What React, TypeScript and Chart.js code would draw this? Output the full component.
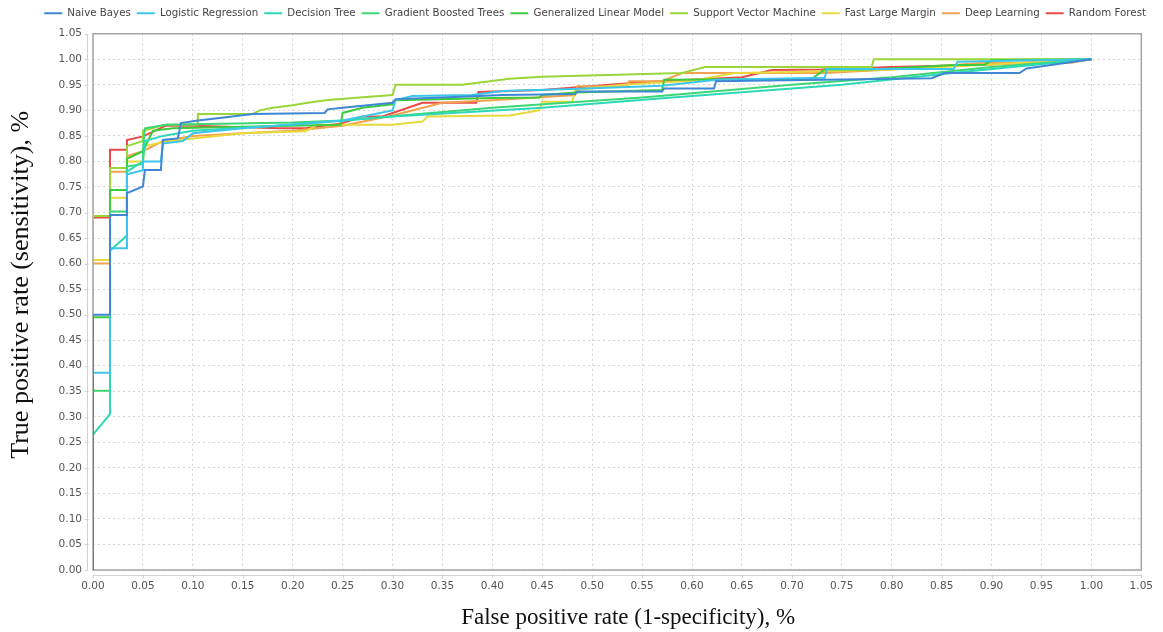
import React, { useEffect, useRef } from "react";
import { Chart, registerables } from "chart.js";

Chart.register(...registerables);

type Pt = [number, number];

const seriesNames = [
  "Naive Bayes",
  "Logistic Regression",
  "Decision Tree",
  "Gradient Boosted Trees",
  "Generalized Linear Model",
  "Support Vector Machine",
  "Fast Large Margin",
  "Deep Learning",
  "Random Forest",
];

const naiveBayes: Pt[] = [
  [0, 0], [0, 0.5], [0.017, 0.5], [0.017, 0.695], [0.034, 0.695], [0.034, 0.738], [0.05, 0.751],
  [0.052, 0.783], [0.068, 0.783], [0.07, 0.842], [0.085, 0.845], [0.088, 0.875], [0.105, 0.88],
  [0.127, 0.885], [0.16, 0.893], [0.232, 0.895], [0.235, 0.902], [0.25, 0.905], [0.3, 0.915],
  [0.303, 0.922], [0.35, 0.925], [0.41, 0.93], [0.483, 0.932], [0.485, 0.937], [0.57, 0.937],
  [0.572, 0.943], [0.622, 0.943], [0.624, 0.957], [0.84, 0.963], [0.853, 0.973], [0.928, 0.973],
  [0.935, 0.982], [1, 1],
];

const logisticRegression: Pt[] = [
  [0, 0], [0, 0.386], [0.017, 0.386], [0.017, 0.63], [0.034, 0.63], [0.034, 0.775], [0.05, 0.783],
  [0.05, 0.8], [0.068, 0.8], [0.07, 0.835], [0.09, 0.84], [0.1, 0.855], [0.15, 0.865], [0.25, 0.88],
  [0.3, 0.9], [0.303, 0.92], [0.32, 0.928], [0.38, 0.93], [0.41, 0.938], [0.48, 0.942], [0.57, 0.948],
  [0.625, 0.96], [0.733, 0.964], [0.735, 0.981], [0.862, 0.981], [0.866, 0.995], [1, 1],
];

const decisionTree: Pt[] = [
  [0, 0], [0, 0.265], [0.017, 0.305], [0.017, 0.625], [0.034, 0.655], [0.034, 0.78], [0.05, 0.8],
  [0.052, 0.84], [0.07, 0.85], [0.1, 0.86], [0.2, 0.872], [0.3, 0.888], [0.45, 0.905], [0.58, 0.925],
  [0.75, 0.95], [0.87, 0.975], [1, 1],
];

const gradientBoostedTrees: Pt[] = [
  [0, 0], [0, 0.351], [0.017, 0.351], [0.017, 0.702], [0.034, 0.702], [0.034, 0.79], [0.05, 0.795],
  [0.05, 0.823], [0.052, 0.865], [0.073, 0.872], [0.1, 0.873], [0.2, 0.876], [0.25, 0.88],
  [0.4, 0.905], [0.55, 0.925], [0.7, 0.95], [0.8, 0.965], [0.9, 0.985], [1, 1],
];

const generalizedLinearModel: Pt[] = [
  [0, 0], [0, 0.495], [0.017, 0.495], [0.017, 0.744], [0.034, 0.744], [0.034, 0.805], [0.05, 0.82],
  [0.06, 0.86], [0.08, 0.865], [0.15, 0.868], [0.248, 0.872], [0.25, 0.895], [0.27, 0.905],
  [0.3, 0.912], [0.303, 0.92], [0.4, 0.924], [0.447, 0.925], [0.45, 0.93], [0.483, 0.935],
  [0.57, 0.94], [0.572, 0.96], [0.72, 0.962], [0.733, 0.98], [0.78, 0.98], [0.863, 0.989],
  [0.893, 0.989], [0.9, 0.998], [1, 1],
];

const supportVectorMachine: Pt[] = [
  [0, 0], [0, 0.693], [0.017, 0.693], [0.017, 0.787], [0.034, 0.787], [0.034, 0.83], [0.05, 0.84],
  [0.05, 0.86], [0.073, 0.872], [0.105, 0.872], [0.105, 0.893], [0.16, 0.893], [0.167, 0.9],
  [0.18, 0.905], [0.2, 0.91], [0.215, 0.915], [0.233, 0.92], [0.267, 0.925], [0.3, 0.93],
  [0.303, 0.95], [0.37, 0.95], [0.417, 0.962], [0.45, 0.966], [0.59, 0.973], [0.613, 0.985],
  [0.78, 0.985], [0.782, 1], [1, 1],
];

const fastLargeMargin: Pt[] = [
  [0, 0], [0, 0.607], [0.017, 0.607], [0.017, 0.729], [0.034, 0.729], [0.034, 0.8], [0.05, 0.8],
  [0.052, 0.83], [0.07, 0.838], [0.1, 0.845], [0.15, 0.855], [0.213, 0.859], [0.225, 0.872],
  [0.3, 0.872], [0.33, 0.878], [0.335, 0.888], [0.417, 0.89], [0.447, 0.9], [0.45, 0.917],
  [0.48, 0.917], [0.483, 0.94], [0.53, 0.95], [0.6, 0.958], [0.643, 0.973], [0.7, 0.975],
  [0.8, 0.98], [0.9, 0.99], [1, 1],
];

const deepLearning: Pt[] = [
  [0, 0], [0, 0.6], [0.017, 0.6], [0.017, 0.78], [0.034, 0.78], [0.034, 0.81], [0.05, 0.82],
  [0.07, 0.84], [0.1, 0.85], [0.15, 0.855], [0.2, 0.86], [0.25, 0.87], [0.3, 0.89], [0.35, 0.915],
  [0.4, 0.92], [0.483, 0.93], [0.485, 0.947], [0.535, 0.947], [0.537, 0.957], [0.57, 0.957],
  [0.59, 0.973], [0.733, 0.973], [0.8, 0.98], [0.893, 0.993], [0.98, 0.993], [1, 1],
];

const randomForest: Pt[] = [
  [0, 0], [0, 0.69], [0.017, 0.69], [0.017, 0.823], [0.034, 0.823], [0.034, 0.842], [0.05, 0.849],
  [0.073, 0.87], [0.1, 0.87], [0.187, 0.865], [0.213, 0.865], [0.25, 0.875], [0.27, 0.888],
  [0.29, 0.888], [0.33, 0.915], [0.384, 0.915], [0.386, 0.936], [0.45, 0.94], [0.55, 0.955],
  [0.65, 0.965], [0.68, 0.979], [0.73, 0.98], [0.8, 0.985], [0.9, 0.99], [1, 1],
];

const seriesData: Pt[][] = [
  naiveBayes,
  logisticRegression,
  decisionTree,
  gradientBoostedTrees,
  generalizedLinearModel,
  supportVectorMachine,
  fastLargeMargin,
  deepLearning,
  randomForest,
];

const seriesColors = [
  "#3f87d4",
  "#3cc6ea",
  "#2ed8b6",
  "#3cd676",
  "#3ccc3c",
  "#9ad63a",
  "#e8da3c",
  "#f0a24c",
  "#e84a4a",
];

const xTitle = "False positive rate (1-specificity), %";
const yTitle = "True positive rate (sensitivity), %";

const SERIF = "'Liberation Serif', 'Times New Roman', serif";

const framePlugin = {
  id: "frameAxes",
  beforeLayout(chart: any) {
    const lg = chart.legend;
    if (lg && !lg._patchedFit) {
      const orig = lg.fit.bind(lg);
      lg.fit = function () {
        orig();
        this.height += 7.5;
      };
      lg._patchedFit = true;
    }
  },
  afterLayout(chart: any) {
    const lg = chart.legend;
    if (lg) {
      lg.left += 8;
      lg.right += 8;
      lg.top += 2;
      lg.bottom += 2;
    }
  },
  beforeDatasetsDraw(chart: any) {
    const { ctx, chartArea } = chart;
    const { left, right, top, bottom } = chartArea;
    ctx.save();
    ctx.strokeStyle = "#a3a3a3";
    ctx.lineWidth = 1.5;
    ctx.strokeRect(left, top, right - left, bottom - top);
    ctx.restore();
  },
  afterDraw(chart: any) {
    const { ctx, chartArea, scales } = chart;
    const { left, right, top, bottom } = chartArea;
    ctx.save();
    ctx.strokeStyle = "#d2d2d2";
    ctx.lineWidth = 1;
    ctx.beginPath();
    const ax = Math.round(left - 6) + 0.5;
    ctx.moveTo(ax, top);
    ctx.lineTo(ax, bottom);
    scales.y.ticks.forEach((t: any) => {
      const py = Math.round(scales.y.getPixelForValue(t.value)) + 0.5;
      ctx.moveTo(ax - 3, py);
      ctx.lineTo(ax + 1, py);
    });
    const ay = Math.round(bottom + 5) + 0.5;
    ctx.moveTo(left, ay);
    ctx.lineTo(right, ay);
    scales.x.ticks.forEach((t: any) => {
      const px = Math.round(scales.x.getPixelForValue(t.value)) + 0.5;
      ctx.moveTo(px, ay - 1);
      ctx.lineTo(px, ay + 3);
    });
    ctx.stroke();

    // axis titles
    ctx.fillStyle = "#111";
    ctx.textAlign = "center";
    ctx.textBaseline = "middle";
    ctx.font = `23px ${SERIF}`;
    ctx.fillText(xTitle, (left + right) / 2 + 11, bottom + 48);
    ctx.translate(21, (top + bottom) / 2 - 17);
    ctx.rotate(-Math.PI / 2);
    ctx.font = `26px ${SERIF}`;
    ctx.fillText(yTitle, 0, 0);
    ctx.restore();
  },
};

export default function App() {
  const canvasRef = useRef<HTMLCanvasElement | null>(null);

  useEffect(() => {
    if (!canvasRef.current) return;
    const tickFont = { family: "'DejaVu Sans', sans-serif", size: 10.5 };
    const gridCommon = {
      color: "#d4d4d4",
      lineWidth: 1,
      drawTicks: false,
    };
    const chart = new Chart(canvasRef.current, {
      type: "scatter",
      data: {
        datasets: seriesNames.map((name, i) => ({
          label: name,
          data: seriesData[i].map(([x, y]) => ({ x, y })),
          borderColor: seriesColors[i],
          backgroundColor: seriesColors[i],
          borderWidth: 2,
          showLine: true,
          pointRadius: 0,
          pointHoverRadius: 0,
          tension: 0,
        })),
      },
      options: {
        animation: false,
        responsive: false,
        events: [],
        layout: { padding: { right: 19 } },
        plugins: {
          tooltip: { enabled: false },
          legend: {
            position: "top",
            align: "end",
            labels: {
              font: { family: "'DejaVu Sans', sans-serif", size: 10.25 },
              color: "#444",
              boxWidth: 18,
              boxHeight: 2,
              padding: 6,
              generateLabels: (c: any) =>
                Chart.defaults.plugins.legend.labels.generateLabels(c).map((l: any) => ({
                  ...l,
                  lineWidth: 0,
                  fillStyle: seriesColors[l.datasetIndex],
                })),
            },
          },
        },
        scales: {
          x: {
            type: "linear",
            min: 0,
            max: 1.05,
            afterFit: (s: any) => {
              s.height = 62;
            },
            ticks: {
              stepSize: 0.05,
              autoSkip: false,
              maxRotation: 0,
              padding: 10,
              color: "#555",
              font: tickFont,
              callback: (v: any) => Number(v).toFixed(2),
            },
            grid: gridCommon,
            border: { display: false, dash: [2, 3] },
            title: { display: false, text: xTitle },
          },
          y: {
            type: "linear",
            min: 0,
            max: 1.05,
            afterFit: (s: any) => {
              s.width = 93;
            },
            ticks: {
              stepSize: 0.05,
              autoSkip: false,
              padding: 11,
              color: "#555",
              font: tickFont,
              callback: (v: any) => Number(v).toFixed(2),
            },
            grid: gridCommon,
            border: { display: false, dash: [2, 3] },
            title: { display: false, text: yTitle },
          },
        },
      },
      plugins: [framePlugin],
    } as any);
    return () => chart.destroy();
  }, []);

  return (
    <div style={{ position: "fixed", left: 0, top: 0, width: 1163, height: 632, background: "#fff" }}>
      <canvas ref={canvasRef} width={1163} height={632} style={{ display: "block" }} />
    </div>
  );
}
